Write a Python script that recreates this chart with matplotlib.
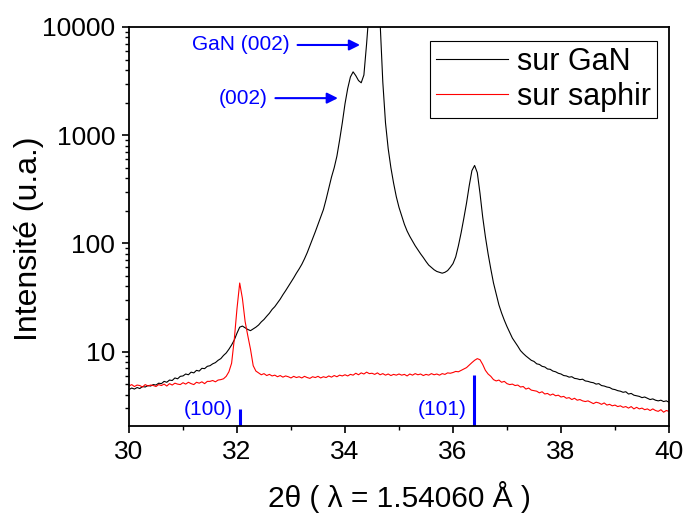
import numpy as np
import matplotlib
matplotlib.use("Agg")
import matplotlib.pyplot as plt

plt.rcParams['font.family'] = ['Liberation Sans', 'DejaVu Sans']

# 2theta grid (degrees), step 0.05
two_theta = np.round(np.arange(30.0, 40.0001, 0.05), 2)

# Intensity, film "sur GaN"
sur_gan = [
    4.45, 4.60, 4.50, 4.65, 4.55, 4.75, 4.70, 4.85, 4.80, 4.95,
    4.90, 5.10, 5.05, 5.30, 5.20, 5.45, 5.40, 5.70, 5.60, 5.90,
    5.95, 6.20, 6.10, 6.45, 6.35, 6.70, 6.60, 7.00, 6.95, 7.30,
    7.40, 7.70, 7.90, 8.30, 8.60, 9.20, 9.70, 10.5, 11.5, 12.8,
    14.8, 16.8, 17.2, 16.6, 16.0, 15.6, 16.2, 16.8, 17.6, 18.8,
    19.8, 21.2, 22.6, 24.5, 26.0, 28.2, 30.5, 33.5, 36.5, 40.0,
    44, 48, 53, 58, 64, 72, 82, 95, 110, 128,
    150, 175, 205, 255, 325, 410, 500, 640, 900, 1300,
    1950, 2700, 3450, 3850, 3550, 3200, 3050, 3600, 7000, 15000,
    50000, 90000, 40000, 11000, 3100, 1300, 750, 500, 360, 270,
    215, 180, 150, 130, 116, 105, 95, 87, 80, 74,
    68, 63, 60, 57, 55, 54, 53, 54, 56, 60,
    65, 75, 95, 125, 170, 235, 340, 470, 525, 450,
    290, 175, 115, 80, 58, 43, 34, 27, 22.7, 19.5,
    17.0, 15.0, 13.3, 12.2, 11.2, 10.2, 9.6, 9.1, 8.7, 8.3,
    8.1, 7.7, 7.6, 7.3, 7.2, 6.9, 6.85, 6.6, 6.5, 6.3,
    6.2, 6.0, 5.95, 5.8, 5.85, 5.65, 5.6, 5.5, 5.55, 5.35,
    5.3, 5.2, 5.15, 5.0, 5.05, 4.85, 4.8, 4.7, 4.65, 4.5,
    4.45, 4.35, 4.3, 4.2, 4.25, 4.05, 4.1, 3.95, 3.9, 3.85,
    3.75, 3.8, 3.7, 3.6, 3.65, 3.55, 3.5, 3.55, 3.45, 3.5,
    3.4,
]

# Intensity, film "sur saphir"
sur_saphir = [
    4.8, 4.95, 4.75, 4.9, 4.85, 4.7, 4.95, 4.8, 4.9, 4.85,
    4.75, 4.95, 4.85, 5.0, 4.8, 5.05, 4.9, 5.1, 5.0, 4.95,
    5.15, 5.0, 5.2, 5.05, 4.95, 5.2, 5.1, 5.25, 5.05, 5.3,
    5.3, 5.4, 5.25, 5.45, 5.5, 5.6, 5.9, 6.5, 7.8, 13,
    25, 43, 31, 19, 14, 10.5, 7.4, 6.6, 6.35, 6.1,
    6.25, 6.0, 6.15, 5.95, 6.05, 5.85, 6.0, 5.8, 5.95, 5.85,
    5.7, 5.9, 5.75, 5.85, 5.7, 5.9, 5.75, 5.65, 5.85, 5.75,
    5.9, 5.7, 5.85, 5.75, 5.95, 5.8, 6.0, 5.85, 6.05, 5.95,
    6.1, 5.95, 6.15, 6.05, 6.3, 6.1, 6.35, 6.2, 6.45, 6.25,
    6.3, 6.15, 6.35, 6.1, 6.25, 6.05, 6.2, 6.0, 6.15, 6.05,
    6.2, 6.05, 6.15, 5.95, 6.2, 6.05, 6.25, 6.1, 6.2, 6.0,
    6.15, 6.05, 6.25, 6.1, 6.2, 6.05, 6.25, 6.15, 6.35, 6.3,
    6.4, 6.55, 6.5, 6.7, 6.9, 7.1, 7.5, 7.9, 8.3, 8.6,
    8.4, 7.6, 6.7, 6.2, 5.9, 5.5, 5.35, 5.45, 5.2, 5.3,
    5.05, 4.95, 5.0, 4.85, 4.9, 4.7, 4.75, 4.5, 4.6, 4.4,
    4.35, 4.3, 4.15, 4.25, 4.05, 4.1, 3.95, 4.05, 3.9, 3.95,
    3.8, 3.85, 3.7, 3.75, 3.6, 3.7, 3.55, 3.6, 3.5, 3.45,
    3.5, 3.4, 3.3, 3.4, 3.35, 3.25, 3.35, 3.2, 3.25, 3.15,
    3.2, 3.1, 3.15, 3.05, 3.1, 3.0, 3.1, 2.95, 3.05, 2.95,
    3.0, 2.9, 2.95, 2.85, 2.95, 2.85, 2.8, 2.9, 2.75, 2.85,
    2.8,
]

series_labels = ["sur GaN", "sur saphir"]

# reference reflections (position, top of the marker)
ref_positions = [32.06, 36.39]
ref_tops = [2.95, 6.1]
ref_labels = ["(100)", "(101)"]

xticks = [30, 32, 34, 36, 38, 40]
yticks = [10, 100, 1000, 10000]

blue = "#0000ff"

fig = plt.figure(figsize=(6.87, 5.2), dpi=100)
ax = fig.add_axes([129/687, 1-426/520, 540/687, 399/520])

ax.plot(two_theta, sur_gan, color="black", lw=0.8, label=series_labels[0])
ax.plot(two_theta, sur_saphir, color="#ff0000", lw=0.8, label=series_labels[1])

ax.set_yscale("log")
ax.set_xlim(30, 40)
ax.set_ylim(2.05, 10000)

ax.set_xticks(xticks)
ax.set_xticklabels([str(t) for t in xticks])
ax.set_xticks(np.arange(31, 40, 2), minor=True)
ax.set_yticks(yticks)
ax.set_yticklabels([str(t) for t in yticks])
ax.yaxis.set_minor_locator(matplotlib.ticker.LogLocator(base=10, subs=np.arange(2, 10)))
ax.yaxis.set_minor_formatter(matplotlib.ticker.NullFormatter())

ax.tick_params(axis="both", which="major", direction="out", length=5, width=1.2,
               labelsize=19, top=False, right=False, pad=5)
ax.tick_params(axis="both", which="minor", direction="out", length=3, width=1.0,
               top=False, right=False)
for s in ax.spines.values():
    s.set_linewidth(1.3)

ax.set_xlabel("2θ ( λ = 1.54060 Å )", fontsize=21.5, labelpad=12)
ax.set_ylabel("Intensité (u.a.)", fontsize=23)
ax.yaxis.set_label_coords(-0.158, 0.47)

# reflection markers
for xp, top, lab in zip(ref_positions, ref_tops, ref_labels):
    ax.vlines(xp, 2.05, top, color=blue, lw=2.2)
    ax.text(xp - 0.13, 2.9, lab, color=blue, fontsize=15, ha="right", va="center")

# arrows
ax.annotate("", xy=(34.33, 6820), xytext=(33.07, 6820),
            arrowprops=dict(arrowstyle="-|>", color=blue, lw=1.5, mutation_scale=16))
ax.text(32.98, 6820, "GaN (002)", color=blue, fontsize=15, ha="right", va="center")
ax.annotate("", xy=(33.92, 2200), xytext=(32.66, 2200),
            arrowprops=dict(arrowstyle="-|>", color=blue, lw=1.5, mutation_scale=16))
ax.text(32.56, 2200, "(002)", color=blue, fontsize=15, ha="right", va="center")

leg = ax.legend(loc="upper right", bbox_to_anchor=(0.978, 0.965), fontsize=22,
                frameon=True, fancybox=False, edgecolor="black", framealpha=1,
                handlelength=2.35, handletextpad=0.3, labelspacing=0.15,
                borderpad=0.2, borderaxespad=0)
leg.get_frame().set_linewidth(0.8)

fig.savefig("out.png", dpi=100)
